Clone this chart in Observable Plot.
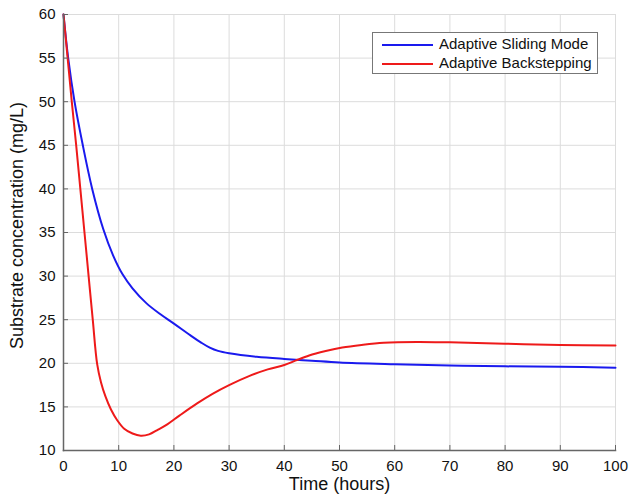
<!DOCTYPE html>
<html><head><meta charset="utf-8">
<script src="https://cdn.jsdelivr.net/npm/d3@7"></script>
<script src="https://cdn.jsdelivr.net/npm/@observablehq/plot@0.6"></script>
<style>
body{margin:0;background:#fff}
#wrap{position:relative;width:630px;height:502px;font-family:"Liberation Sans",Arial,Helvetica,sans-serif}
#legend{position:absolute;left:372px;top:32px;width:224px;height:40px;border:1px solid #777;background:#fff;font-size:15px;color:#111}
.item{position:absolute;left:9px;height:18px;line-height:18px;white-space:nowrap}
.item span.sw{display:inline-block;width:51px;height:2px;vertical-align:middle;margin-right:6px}
</style></head><body><div id="wrap"></div>
<script>
const xTicks = [0, 10, 20, 30, 40, 50, 60, 70, 80, 90, 100];
const yTicks = [10, 15, 20, 25, 30, 35, 40, 45, 50, 55, 60];
const seriesNames = ["Adaptive Sliding Mode", "Adaptive Backstepping"];

const asmTime = [0, 0.85, 2.0, 3.5, 5.2, 7.2, 9.0, 10.7, 12.5, 15, 17.5, 20, 23, 25, 26.5, 28, 30, 35, 40, 45, 50, 60, 70, 80, 90, 100];
const asmConc = [60, 55, 50, 45, 40, 35.4, 32.35, 30.2, 28.6, 26.9, 25.65, 24.55, 23.2, 22.35, 21.8, 21.42, 21.15, 20.75, 20.5, 20.3, 20.1, 19.9, 19.75, 19.65, 19.6, 19.5];

const absTime = [0, 0.75, 1.5, 2.3, 3.05, 3.8, 4.55, 5.3, 6.1, 6.8, 7.6, 8.6, 9.7, 11, 12.5, 14, 15.5, 17, 18.8, 21, 24.2, 27, 30, 33.5, 37, 40, 42, 44.5, 47.5, 50.5, 54, 58, 64, 70, 80, 90, 100];
const absConc = [60, 55, 50, 45, 40, 35, 30, 25, 19.9, 17.8, 16.2, 14.7, 13.5, 12.5, 11.95, 11.7, 11.85, 12.35, 13.0, 14.0, 15.4, 16.5, 17.5, 18.5, 19.3, 19.8, 20.3, 20.9, 21.4, 21.8, 22.1, 22.35, 22.45, 22.4, 22.25, 22.1, 22.05];

const colors = ["#1a1aee", "#ee1a1a"];
const asm = asmTime.map((t, i) => ({t, c: asmConc[i]}));
const abs = absTime.map((t, i) => ({t, c: absConc[i]}));

const chart = Plot.plot({
  width: 630, height: 502,
  marginLeft: 63, marginRight: 15, marginTop: 14, marginBottom: 52,
  x: {domain: [0, 100]},
  y: {domain: [10, 60]},
  style: {fontFamily: '"Liberation Sans", Arial, Helvetica, sans-serif', fontSize: "15px", color: "#111", background: "#fff"},
  marks: [
    Plot.gridX(xTicks, {stroke: "#dcdcdc", strokeOpacity: 1}),
    Plot.gridY(yTicks, {stroke: "#dcdcdc", strokeOpacity: 1}),
    Plot.line(asm, {x: "t", y: "c", stroke: colors[0], strokeWidth: 2, curve: "catmull-rom"}),
    Plot.line(abs, {x: "t", y: "c", stroke: colors[1], strokeWidth: 2, curve: "catmull-rom"}),
    Plot.axisX(xTicks, {tickSize: 5, dy: -5, text: null, stroke: "#666", label: null}),
    Plot.axisX(xTicks, {tickSize: 0, tickPadding: 10, label: null, fill: "#111"}),
    Plot.axisY(yTicks, {tickSize: 5, dx: 5, text: null, stroke: "#666", label: null}),
    Plot.axisY(yTicks, {tickSize: 0, tickPadding: 8, label: null, fill: "#111"}),
    Plot.frame({anchor: "bottom", stroke: "#666", strokeWidth: 1.5}),
    Plot.frame({anchor: "left", stroke: "#666", strokeWidth: 1.5}),
    Plot.text(["Time (hours)"], {frameAnchor: "bottom", dy: 39, fontSize: 18, fill: "#111"}),
    Plot.text(["Substrate concentration (mg/L)"], {frameAnchor: "left", textAnchor: "middle", rotate: -90, dx: -46, dy: -7, fontSize: 18, fill: "#111"})
  ]
});
const wrap = document.getElementById("wrap");
wrap.appendChild(chart);
const lg = document.createElement("div");
lg.id = "legend";
seriesNames.forEach((n, i) => {
  const it = document.createElement("div");
  it.className = "item";
  it.style.top = (i === 0 ? 2 : 20.5) + "px";
  it.innerHTML = `<span class="sw" style="background:${colors[i]}"></span>${n}`;
  lg.appendChild(it);
});
wrap.appendChild(lg);
</script></body></html>
